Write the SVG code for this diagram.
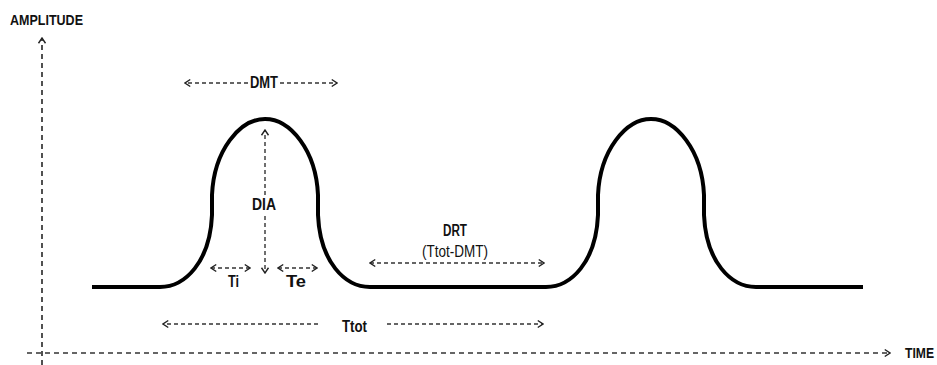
<svg xmlns="http://www.w3.org/2000/svg" width="937" height="365" viewBox="0 0 937 365">
<style>
.wave{fill:none;stroke:#000;stroke-width:4;stroke-linejoin:round}
.axis{fill:none;stroke:#333;stroke-width:1.7;stroke-dasharray:5 4}
.meas{fill:none;stroke:#333;stroke-width:1.4;stroke-dasharray:4 3}
.lbl{font-family:"Liberation Sans",Arial,sans-serif;font-weight:bold;fill:#111}
.sub{font-family:"Liberation Sans",Arial,sans-serif;font-weight:normal;fill:#111}
</style>
<defs>
<marker id="chev" viewBox="0 0 8 10" refX="7" refY="5" markerUnits="userSpaceOnUse" markerWidth="7" markerHeight="10" orient="auto-start-reverse">
<path d="M1,1 L7,5 L1,9" fill="none" stroke="#222" stroke-width="1.6" stroke-dasharray="none" stroke-linejoin="miter"/>
</marker>
</defs>
<g id="axes">
<line class="axis" x1="42" y1="365" x2="42" y2="38" marker-end="url(#chev)"/>
<line class="axis" x1="27" y1="353" x2="890" y2="353" marker-end="url(#chev)"/>
<text class="lbl" x="10" y="25" font-size="14" textLength="73" lengthAdjust="spacingAndGlyphs">AMPLITUDE</text>
<text class="lbl" x="905" y="358" font-size="14" textLength="29" lengthAdjust="spacingAndGlyphs">TIME</text>
</g>
<g id="waveform">
<path class="wave" d="M92,287 L160,287 C185,287 210,262 212,215 L212,195 C214,150 240,119 265,119 C290,119 316,150 318,195 L318,215 C320,262 345,287 370,287 L546,287 C571,287 596,262 598,215 L598,195 C600,150 626,119 651,119 C676,119 702,150 704,195 L704,215 C706,262 731,287 756,287 L863,287"/>
</g>
<g id="connectors">
<line class="meas" x1="248" y1="83" x2="185" y2="83" marker-end="url(#chev)"/>
<line class="meas" x1="280" y1="83" x2="337" y2="83" marker-end="url(#chev)"/>
<line class="meas" x1="265" y1="195" x2="265" y2="130" marker-end="url(#chev)"/>
<line class="meas" x1="265" y1="216" x2="265" y2="273" marker-end="url(#chev)"/>
<line class="meas" x1="211" y1="268" x2="250" y2="268" marker-start="url(#chev)" marker-end="url(#chev)"/>
<line class="meas" x1="278" y1="268" x2="317" y2="268" marker-start="url(#chev)" marker-end="url(#chev)"/>
<line class="meas" x1="370" y1="263" x2="544" y2="263" marker-start="url(#chev)" marker-end="url(#chev)"/>
<line class="meas" x1="318" y1="324" x2="163" y2="324" marker-end="url(#chev)"/>
<line class="meas" x1="387" y1="324" x2="543" y2="324" marker-end="url(#chev)"/>
</g>
<g id="labels">
<text id="dmt" class="lbl" x="250" y="88" font-size="16" textLength="28" lengthAdjust="spacingAndGlyphs">DMT</text>
<text id="dia" class="lbl" x="252" y="210" font-size="16" textLength="24" lengthAdjust="spacingAndGlyphs">DIA</text>
<text id="ti" class="lbl" x="228" y="287" font-size="16" textLength="11" lengthAdjust="spacingAndGlyphs">Ti</text>
<text id="te" class="lbl" x="286" y="287" font-size="16" textLength="20" lengthAdjust="spacingAndGlyphs">Te</text>
<text id="drt" class="lbl" x="443" y="236" font-size="16" textLength="24" lengthAdjust="spacingAndGlyphs">DRT</text>
<text id="drt-sub" class="sub" x="422" y="257" font-size="16" textLength="66" lengthAdjust="spacingAndGlyphs">(Ttot-DMT)</text>
<text id="ttot" class="lbl" x="342" y="332" font-size="16" textLength="25" lengthAdjust="spacingAndGlyphs">Ttot</text>
</g>
</svg>
